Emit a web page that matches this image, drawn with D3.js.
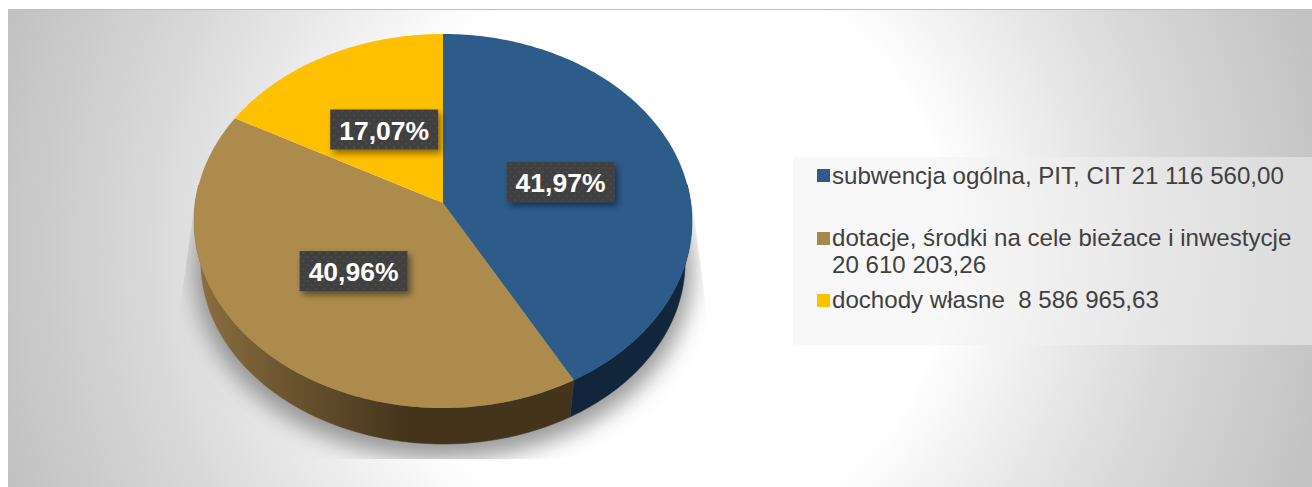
<!DOCTYPE html>
<html>
<head>
<meta charset="utf-8">
<script src="https://cdn.jsdelivr.net/npm/d3@7"></script>
<style>
  html, body { margin: 0; padding: 0; background: #fff; overflow: hidden; }
  svg { display: block; }
  text { font-family: "Liberation Sans", Arial, sans-serif; }
</style>
</head>
<body>
<div id="chart"></div>
<script>
const categories = ["subwencja ogólna, PIT, CIT", "dotacje, środki na cele bieżace i inwestycje", "dochody własne"];
const values = [21116560.00, 20610203.26, 8586965.63];
const valueLabels = ["21 116 560,00", "20 610 203,26", "8 586 965,63"];
const percentLabels = ["41,97%", "40,96%", "17,07%"];
const topColors = ["#2d5c8b", "#ac8b4d", "#ffc000"];
const legendColors = ["#2c5a89", "#a5884a", "#ffc000"];

const width = 1312, height = 487;

const svg = d3.select("#chart").append("svg")
    .attr("width", width)
    .attr("height", height);

const defs = svg.append("defs");

// background gradient
let bgFill = defs.append("radialGradient")
    .attr("id", "bg-fill")
    .attr("gradientUnits", "userSpaceOnUse")
    .attr("cx", 660).attr("cy", 248).attr("r", 700);
[["0%", "#ffffff"], ["41%", "#ffffff"], ["60%", "#e8e8e8"], ["74%", "#d8d8d8"], ["100%", "#c0c0c0"]]
    .forEach(s => bgFill.append("stop").attr("offset", s[0]).attr("stop-color", s[1]));

svg.append("rect")
    .attr("x", 8).attr("y", 10)
    .attr("width", width - 8).attr("height", height - 10)
    .attr("fill", "url(#bg-fill)");

svg.append("line")
    .attr("x1", 8).attr("x2", width).attr("y1", 9.5).attr("y2", 9.5)
    .attr("stroke", "#bdbdbd");

// perspective projection of the pie disc, angle 0 is up and clockwise
const cx = 443, k = 0.0963;
function project(angle, r, disc) {
    let u = Math.sin(angle) * r, v = -Math.cos(angle) * r;
    let w = 1 - k * v;
    return [cx + disc.a * u / w, disc.y + disc.b * v / w];
}
const topDisc = {a: 247.8, b: 185.3, y: 203};
const baseDisc = {a: 241, b: 180.3, y: 244.5};

const pie = d3.pie().sort(null).value(d => d);
const arcs = pie(values);
const line = d3.line();

function rim(a0, a1, disc) {
    let n = Math.max(2, Math.ceil((a1 - a0) * 60));
    return d3.range(n + 1).map(i => project(a0 + (a1 - a0) * i / n, 1, disc));
}

// shadow
defs.append("filter").attr("id", "blur")
    .attr("x", "-20%").attr("y", "-20%").attr("width", "140%").attr("height", "140%")
    .append("feGaussianBlur").attr("stdDeviation", 11);
defs.append("clipPath").attr("id", "shadow-clip")
    .append("path")
    .attr("d", "M195,200L178,322L178,459L708,459L708,322L692,200Z");
svg.append("g").attr("clip-path", "url(#shadow-clip)")
    .append("path")
    .attr("d", line(rim(0, 2 * Math.PI, {a: 248, b: 187, y: 252})) + "Z")
    .attr("fill", "#808080")
    .attr("fill-opacity", 0.8)
    .attr("filter", "url(#blur)");

// side gradients
const sideStops = [
    [["0%", "#0f2034"], ["100%", "#12263d"]],
    [["0%", "#8d7040"], ["24%", "#6c5530"], ["38%", "#5c4828"], ["57%", "#44341b"], ["100%", "#44341b"]],
    [["0%", "#7f6000"], ["100%", "#7f6000"]]
];
sideStops.forEach((stops, i) => {
    let g = defs.append("linearGradient")
        .attr("id", "side-" + i)
        .attr("gradientUnits", "userSpaceOnUse")
        .attr("x1", 194).attr("x2", 692).attr("y1", 0).attr("y2", 0);
    if (i === 1) g.attr("x2", 570);
    stops.forEach(s => g.append("stop").attr("offset", s[0]).attr("stop-color", s[1]));
});

// sides: only the front part of the rim shows
const front0 = Math.PI / 2 - 0.1, front1 = 3 * Math.PI / 2 + 0.1;
arcs.forEach((d, i) => {
    let a0 = Math.max(d.startAngle, front0), a1 = Math.min(d.endAngle, front1);
    if (a1 <= a0) return;
    let pts = rim(a0, a1, topDisc).concat(rim(a0, a1, baseDisc).reverse());
    svg.append("path")
        .attr("class", "side")
        .attr("d", line(pts) + "Z")
        .attr("fill", "url(#side-" + i + ")")
        .attr("stroke", "url(#side-" + i + ")")
        .attr("stroke-width", 0.5);
});

// top of the pie
arcs.forEach((d, i) => {
    let pts = [project(0, 0, topDisc)].concat(rim(d.startAngle, d.endAngle, topDisc));
    svg.append("path")
        .attr("class", "slice")
        .attr("d", line(pts) + "Z")
        .attr("fill", topColors[i]);
});

// data labels
let dots = defs.append("pattern")
    .attr("id", "dots")
    .attr("patternUnits", "userSpaceOnUse")
    .attr("width", 8).attr("height", 8);
dots.append("rect").attr("width", 8).attr("height", 8).attr("fill", "#404040");
dots.append("circle").attr("cx", 2).attr("cy", 2).attr("r", 1).attr("fill", "#505050");
dots.append("circle").attr("cx", 6).attr("cy", 6).attr("r", 1).attr("fill", "#505050");

defs.append("filter").attr("id", "box-shadow")
    .attr("x", "-20%").attr("y", "-30%").attr("width", "150%").attr("height", "170%")
    .append("feDropShadow")
    .attr("dx", 3).attr("dy", 4).attr("stdDeviation", 3)
    .attr("flood-color", "#000").attr("flood-opacity", 0.45);

// small nudges so the boxes sit where the original put them
const labelNudge = [[-1, 2], [1, 0], [2, 3]];
arcs.forEach((d, i) => {
    let p = project((d.startAngle + d.endAngle) / 2, 0.5, topDisc);
    let g = svg.append("g")
        .attr("transform", `translate(${p[0] + labelNudge[i][0]}, ${p[1] + labelNudge[i][1]})`);
    g.append("rect")
        .attr("x", -54).attr("y", -20)
        .attr("width", 108).attr("height", 40)
        .attr("fill", "url(#dots)")
        .attr("filter", "url(#box-shadow)");
    g.append("text")
        .attr("text-anchor", "middle")
        .attr("y", 10)
        .attr("font-size", 26.5)
        .attr("font-weight", "bold")
        .attr("fill", "#fff")
        .text(percentLabels[i]);
});

// legend
svg.append("rect")
    .attr("x", 793).attr("y", 157)
    .attr("width", width - 793).attr("height", 188)
    .attr("fill", "#f2f2f2")
    .attr("fill-opacity", 0.5);

const legendRows = [
    {y: 176, textY: 184, lines: [categories[0] + " " + valueLabels[0]]},
    {y: 239, textY: 246, lines: [categories[1], valueLabels[1]]},
    {y: 301, textY: 308, lines: [categories[2] + "  " + valueLabels[2]]}
];
legendRows.forEach((row, i) => {
    svg.append("rect")
        .attr("x", 817).attr("y", row.y - 7)
        .attr("width", 13).attr("height", 13)
        .attr("fill", legendColors[i]);
    row.lines.forEach((t, j) => {
        svg.append("text")
            .attr("x", 832).attr("y", row.textY + j * 27)
            .attr("font-size", 24.1)
            .attr("fill", "#404040")
            .style("white-space", "pre")
            .text(t);
    });
});
</script>
</body>
</html>
